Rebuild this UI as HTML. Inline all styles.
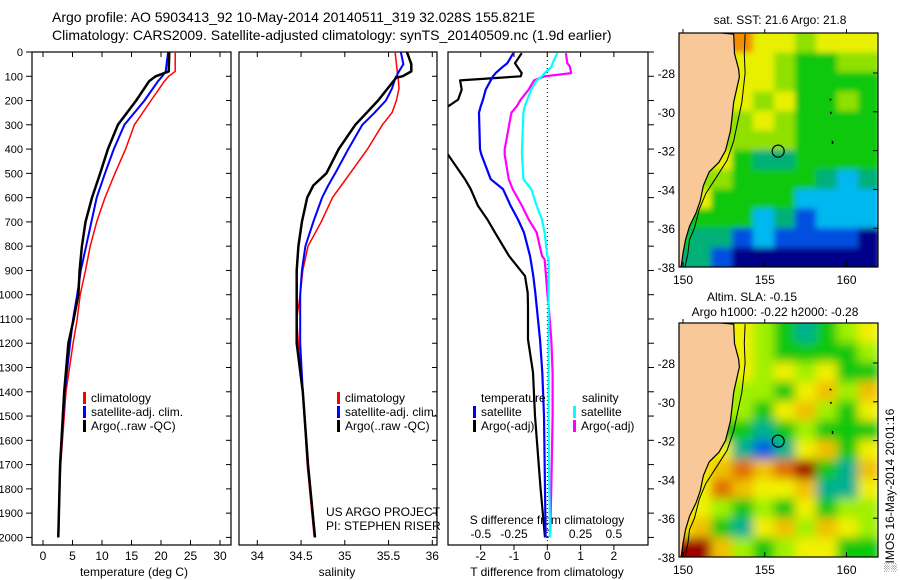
<!DOCTYPE html>
<html><head><meta charset="utf-8"><style>
html,body{margin:0;padding:0;background:#fff}
svg{display:block;font-family:"Liberation Sans",sans-serif}
text{font-size:12px;fill:#000}
</style></head><body>
<svg id="fig" width="900" height="580" viewBox="0 0 900 580">
<defs>
<clipPath id="c1"><rect x="32" y="52" width="199" height="493"/></clipPath>
<clipPath id="c2"><rect x="239" y="52" width="198" height="493"/></clipPath>
<clipPath id="c3"><rect x="448" y="52" width="200" height="493"/></clipPath>
<clipPath id="cm1"><rect x="679" y="33" width="199" height="234"/></clipPath>
<clipPath id="cm2"><rect x="679" y="323" width="199" height="234"/></clipPath>
<filter id="bl" x="-5%" y="-5%" width="110%" height="110%"><feGaussianBlur stdDeviation="5"/></filter>
<filter id="bl2" x="-5%" y="-5%" width="110%" height="110%"><feGaussianBlur stdDeviation="3"/></filter>
</defs>
<text x="52" y="22" style="font-size:14px">Argo profile: AO 5903413_92 10-May-2014 20140511_319 32.028S 155.821E</text>
<text x="52" y="40" style="font-size:14px">Climatology: CARS2009. Satellite-adjusted climatology: synTS_20140509.nc (1.9d earlier)</text>
<g id="root"></g>
</svg>
<script>
// ---------- data ----------
const tDepth = [0,80,100,120,200,300,400,500,600,700,800,900,1000,1100,1200,1400,1700,2000];
const tClim  = [22.4,22.4,21.3,20.6,18.3,15.5,14.0,12.2,10.5,9.1,8.0,7.2,6.3,5.8,5.1,3.9,3.0,2.5];
const tSat   = [21.2,20.8,20.2,19.5,17.2,13.8,12.0,10.5,9.1,8.2,7.3,6.4,5.8,5.1,4.6,3.7,2.9,2.6];
const tArgo  = [21.4,21.3,19.1,18.0,15.8,12.7,11.0,9.7,8.3,7.2,6.6,6.2,6.0,5.2,4.3,3.6,2.9,2.6];

const sDepth = [0,50,80,100,105,150,200,250,300,400,500,550,600,700,800,900,1000,1100,1200,1400,1700,2000];
const sClim  = [35.575,35.59,35.6,35.6,35.61,35.62,35.59,35.54,35.43,35.26,35.06,34.96,34.86,34.73,34.58,34.52,34.49,34.45,34.47,34.52,34.57,34.65];
const sSat   = [35.64,35.67,35.62,35.59,35.58,35.54,35.47,35.34,35.20,35.04,34.89,34.81,34.74,34.64,34.55,34.51,34.49,34.49,34.49,34.52,34.58,34.66];
const sArgo  = [35.71,35.76,35.76,35.66,35.59,35.49,35.38,35.25,35.12,34.93,34.79,34.64,34.57,34.51,34.47,34.45,34.45,34.45,34.45,34.52,34.58,34.66];

const dDepth = [5,46,60,87,100,117,155,196,224,250,400,423,524,565,634,690,744,840,854,923,992,1045,1184,1320,1500,1800,2000];
const dTSat  = [-1.02,-1.2,-1.33,-1.55,-1.63,-1.7,-1.85,-1.93,-2.0,-2.05,-2.02,-1.98,-1.7,-1.33,-1.1,-0.88,-0.7,-0.52,-0.5,-0.42,-0.36,-0.32,-0.22,-0.15,-0.1,-0.07,-0.05];
const dTArgo = [-0.77,-0.97,-0.9,-0.77,-0.8,-2.62,-2.57,-2.68,-2.98,-3.5,-3.5,-2.98,-2.47,-2.3,-2.08,-1.8,-1.57,-1.15,-1.07,-0.67,-0.59,-0.58,-0.58,-0.43,-0.37,-0.2,-0.07];
const dSSat  = [0.075,0.04,0.033,-0.02,-0.04,-0.08,-0.12,-0.15,-0.17,-0.18,-0.19,-0.19,-0.18,-0.12,-0.08,-0.04,-0.02,0.0,0.01,0.01,0.01,0.01,0.01,0.01,0.01,0.015,0.02];
const dSArgo = [0.14,0.15,0.17,0.18,-0.02,-0.1,-0.14,-0.2,-0.23,-0.27,-0.32,-0.32,-0.29,-0.26,-0.19,-0.14,-0.08,-0.04,-0.02,-0.01,0.0,0.01,0.03,0.04,0.04,0.03,0.02];

const depthTicks = [0,100,200,300,400,500,600,700,800,900,1000,1100,1200,1300,1400,1500,1600,1700,1800,1900,2000];
const tTicks = [0,5,10,15,20,25,30];
const sTicks = [34,34.5,35,35.5,36];
const dTTicks = [-2,-1,0,1,2];
const dSTicks = [-0.5,-0.25,0,0.25,0.5];
const dSTickLabels = ["-0.5","-0.25","0","0.25","0.5"];
const latTicks = [-28,-30,-32,-34,-36,-38];
const lonTicks = [150,155,160];

const argoLon = 155.821, argoLat = -32.028;
const sstGrid = [
"...oyylyyy",
"...yylggll",
"...yylgggg",
"...ylyggl g",
"...lylgggg",
"...lllgggg",
"..ygttgggg",
".llggggtct",
".yggggcccc",
".gggctbccc",
"gttbcbbbbn",
"ttbnnnnnnn"];
const slaGrid = [
"...ylgtgly",
"...ylggggl",
"...ylylygg",
"...llgyYlY",
"...lgyYlgy",
"...gtglggg",
"..ytbtyYgy",
".yYoYorgtY",
".yoYyyYtty",
".ylglgygll",
"yYgtyYlYyl",
"rrYlglyygg"];
const sstColors = {o:"#f09000",y:"#e8f000",l:"#90e000",g:"#10c810",t:"#00b078",c:"#00b8f0",b:"#0050e0",n:"#000088"};
const slaColors = {r:"#a00000",o:"#e07000",Y:"#f0c000",y:"#f0f000",l:"#a0f000",g:"#10c810",t:"#00b090",b:"#0060e0"};
const coast = [[153.1,-26],[153.15,-27],[153.4,-27.8],[153.45,-28.2],[153.1,-29.5],[153.0,-30.3],[152.9,-31],[152.6,-32],[152.2,-32.6],[151.6,-33.1],[151.25,-33.8],[151.05,-34.6],[150.8,-35.2],[150.4,-35.9],[150.15,-36.6],[150.0,-37.3],[149.9,-37.9]];
const iso = [[153.8,-26],[153.75,-27],[153.8,-28],[153.6,-29.5],[153.35,-30.5],[153.1,-31.5],[152.7,-32.5],[152.1,-33.3],[151.4,-34.2],[151.0,-35],[150.7,-36],[150.4,-36.6],[150.3,-37.3],[150.1,-38.1]];

// ---------- scales ----------
const Y = d => 52 + d*0.2427;
const XT = t => 43 + t*5.9;
const XS = s => 257.3 + (s-34)*87.5;
const XDT = v => 547.3 + v*33.3;
const XDS = v => 547.3 + v*133;
const MX = lon => 683 + (lon-150)*16.35;
const MY1 = lat => 73 + (-28-lat)*19.4;
const MY2 = lat => 363 + (-28-lat)*19.4;

const NS = "http://www.w3.org/2000/svg";
const root = document.getElementById('root');
function el(tag, attrs, parent){const e=document.createElementNS(NS,tag);for(const k in attrs)e.setAttribute(k,attrs[k]);(parent||root).appendChild(e);return e;}
function txt(x,y,s,anchor,size,parent){const t=el('text',{x:x,y:y,'text-anchor':anchor||'start'},parent);if(size)t.style.fontSize=size+'px';t.textContent=s;return t;}

function profile(xs, ys, color, w, clip, name){
  let d='';
  for(let i=0;i<xs.length;i++) d+=(i?'L':'M')+xs[i].toFixed(1)+' '+ys[i].toFixed(1);
  const p=el('path',{d:d,fill:'none',stroke:color,'stroke-width':w,'clip-path':'url(#'+clip+')','stroke-linejoin':'round'});
  
  
}

function panel(x0,x1,name){
  const r=el('rect',{x:x0,y:52,width:x1-x0,height:493,fill:'none',stroke:'#000','stroke-width':1.2});
  
  
}

// ---------- panel 1 temperature ----------
panel(32,231,'temperature-panel');
depthTicks.forEach(d=>{
  el('line',{x1:32,x2:26,y1:Y(d),y2:Y(d),stroke:'#000'});
  el('line',{x1:231,x2:226,y1:Y(d),y2:Y(d),stroke:'#000'});
  const t=txt(23,Y(d)+4,String(d),'end',11);
  
  
});
tTicks.forEach(v=>{
  el('line',{x1:XT(v),x2:XT(v),y1:52,y2:57,stroke:'#000'});
  el('line',{x1:XT(v),x2:XT(v),y1:545,y2:540,stroke:'#000'});
  const t=txt(XT(v),560,String(v),'middle');
  
  
});
const xl1=txt(134,576,'temperature (deg C)','middle');


profile(tClim.map(XT),tDepth.map(Y),'#ff0000',1.5,'c1','temperature-climatology-line');
profile(tSat.map(XT),tDepth.map(Y),'#0000ff',2,'c1','temperature-satellite-line');
profile(tArgo.map(XT),tDepth.map(Y),'#000000',2.5,'c1','temperature-argo-line');

// ---------- panel 2 salinity ----------
panel(239,437,'salinity-panel');
depthTicks.forEach(d=>{el('line',{x1:437,x2:432,y1:Y(d),y2:Y(d),stroke:'#000'});});
sTicks.forEach(v=>{
  el('line',{x1:XS(v),x2:XS(v),y1:52,y2:57,stroke:'#000'});
  el('line',{x1:XS(v),x2:XS(v),y1:545,y2:540,stroke:'#000'});
  const t=txt(XS(v),560,String(v),'middle');
  
  
});
const xl2=txt(337,576,'salinity','middle');


profile(sClim.map(XS),sDepth.map(Y),'#ff0000',1.5,'c2','salinity-climatology-line');
profile(sSat.map(XS),sDepth.map(Y),'#0000ff',2,'c2','salinity-satellite-line');
profile(sArgo.map(XS),sDepth.map(Y),'#000000',2.5,'c2','salinity-argo-line');

function legend(x, y, color, label, name){
  const m=el('rect',{x:x,y:y-10,width:3,height:12,fill:color});
  
  
  const t=txt(x+8,y,label,'start');
  
  
}
legend(83,402,'#ff0000','climatology','legend-climatology');
legend(83,416,'#0000ff','satellite-adj. clim.','legend-satellite');
legend(83,430,'#000000','Argo(..raw -QC)','legend-argo');
legend(337,402,'#ff0000','climatology','legend-climatology-2');
legend(337,416,'#0000ff','satellite-adj. clim.','legend-satellite-2');
legend(337,430,'#000000','Argo(..raw -QC)','legend-argo-2');
const pr1=txt(326,516,'US ARGO PROJECT','start');


const pr2=txt(326,530,'PI: STEPHEN RISER','start');



// ---------- panel 3 differences ----------
panel(448,648,'difference-panel');
depthTicks.forEach(d=>{el('line',{x1:648,x2:654,y1:Y(d),y2:Y(d),stroke:'#000'});});
el('line',{x1:XDT(0),x2:XDT(0),y1:52,y2:545,stroke:'#000','stroke-dasharray':'1,3'});
dTTicks.forEach(v=>{
  el('line',{x1:XDT(v),x2:XDT(v),y1:52,y2:57,stroke:'#000'});
  el('line',{x1:XDT(v),x2:XDT(v),y1:545,y2:550,stroke:'#000'});
  const t=txt(XDT(v),560,String(v),'middle');
  
  
});
dSTicks.forEach((v,i)=>{
  const t=txt(XDS(v),538,dSTickLabels[i],'middle');
  
  
});
const xl3=txt(547,576,'T difference from climatology','middle');


const xl4=txt(547,524,'S difference from climatology','middle');


profile(dTArgo.map(XDT),dDepth.map(Y),'#000000',2.2,'c3','tdiff-argo-line');
profile(dTSat.map(XDT),dDepth.map(Y),'#0000ff',2.2,'c3','tdiff-satellite-line');
profile(dSArgo.map(XDS),dDepth.map(Y),'#ff00ff',2.2,'c3','sdiff-argo-line');
profile(dSSat.map(XDS),dDepth.map(Y),'#00ffff',2.2,'c3','sdiff-satellite-line');
const lh1=txt(481,402,'temperature','start');


const lh2=txt(582,402,'salinity','start');


legend(473,416,'#0000ff','satellite','legend-tdiff-satellite');
legend(473,430,'#000000','Argo(-adj)','legend-tdiff-argo');
legend(573,416,'#00ffff','satellite','legend-sdiff-satellite');
legend(573,430,'#ff00ff','Argo(-adj)','legend-sdiff-argo');

// ---------- maps ----------
function drawMap(grid, colors, MY, clip, y0, name){
  const g=el('g',{'clip-path':'url(#'+clip+')'});
  
  
  const inner=el('g',{filter:'url(#'+(name==='sst-map'?'bl2':'bl')+')'},g);
  const rowH=234/grid.length;
  grid.forEach((row,ri)=>{
    const cols=row.replace(/ /g,'');
    for(let ci=0;ci<cols.length;ci++){
      const c=colors[cols[ci]] || colors[cols[Math.min(ci+1,cols.length-1)]] || colors[cols[cols.length-1]];
      const cell=el('rect',{x:669+ci*21,y:y0-10+ri*rowH+(ri===0?0:10),width:22,height:rowH+(ri===0?11:1)+(ri===grid.length-1?12:0),fill:c},inner);
      
    }
  });
  let d='M670 '+(y0-5);
  coast.forEach(p=>{d+='L'+MX(p[0]).toFixed(1)+' '+MY(p[1]).toFixed(1);});
  d+='L679 '+(y0+240)+'L670 '+(y0+240)+'Z';
  const land=el('path',{d:d,fill:'#f8c898',stroke:'#000','stroke-width':1.2},g);
  
  let d2='';
  iso.forEach((p,i)=>{d2+=(i?'L':'M')+MX(p[0]).toFixed(1)+' '+MY(p[1]).toFixed(1);});
  const isl=el('path',{d:d2,fill:'none',stroke:'#000','stroke-width':1},g);
  
  el('path',{d:'M'+MX(159)+' '+MY(-29.3)+'l2 2l-3 0z',fill:'#000'},g);
  el('rect',{x:MX(159),y:MY(-30),width:1.5,height:2,fill:'#000'},g);
  el('rect',{x:MX(159.1),y:MY(-31.5),width:1.5,height:3,fill:'#000'},g);
  const c=el('circle',{cx:MX(argoLon),cy:MY(argoLat),r:6,fill:'none',stroke:'#000','stroke-width':1.2});
  
  
  const b=el('rect',{x:679,y:y0,width:199,height:234,fill:'none',stroke:'#000','stroke-width':1.2});
  
  
  latTicks.forEach(l=>{
    el('line',{x1:878,x2:873,y1:MY(l),y2:MY(l),stroke:'#000'});
    const t=txt(675,MY(l)+5,String(l),'end');
    
    
  });
  lonTicks.forEach(l=>{
    el('line',{x1:MX(l),x2:MX(l),y1:y0+234,y2:y0+229,stroke:'#000'});
    el('line',{x1:MX(l),x2:MX(l),y1:y0,y2:y0-4,stroke:'#000'});
    const t=txt(MX(l),y0+251,String(l),'middle');
    
    
  });
}
drawMap(sstGrid, sstColors, MY1, 'cm1', 33, 'sst-map');
drawMap(slaGrid, slaColors, MY2, 'cm2', 323, 'sla-map');
const mt1=txt(780,24,'sat. SST: 21.6 Argo: 21.8','middle');


const mt2=txt(752,301,'Altim. SLA: -0.15','middle');


const mt3=txt(775,316,'Argo h1000: -0.22 h2000: -0.28','middle');


const st=txt(0,0,'\u2591IMOS 16-May-2014 20:01:16','start');
st.setAttribute('transform','translate(894,572) rotate(-90)');


</script>
</body></html>
